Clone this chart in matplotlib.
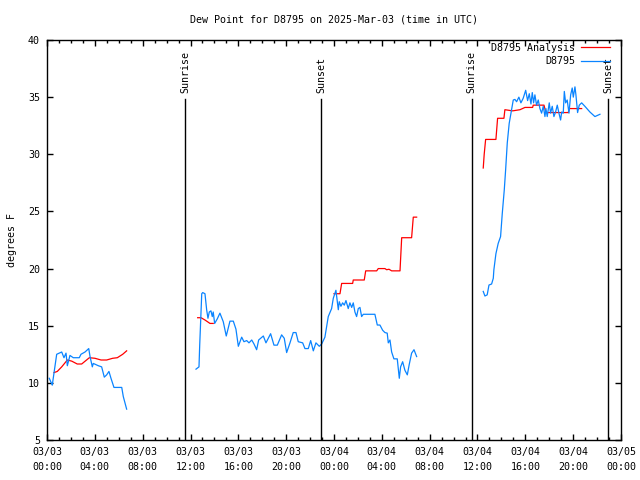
import numpy as np
import matplotlib
matplotlib.use("Agg")
import matplotlib.pyplot as plt
from matplotlib.ticker import MultipleLocator, FuncFormatter
import matplotlib.transforms as mtransforms

# ------------------------------------------------------------
# data (hours since 2025-03-03 00:00 UTC, dew point in F)
# nan marks a gap in the record
# ------------------------------------------------------------
obs_hours = [
    0.19, 0.44, 0.81, 1.23, 1.42, 1.59, 1.70, 1.92, 2.20, 2.70, 2.84, 3.18, 3.49, 3.60,
    3.79, 3.87, 4.29, 4.57, 4.79, 4.99, 5.18, 5.35, 5.60, 6.25, 6.38, 6.66,
    np.nan,
    12.46, 12.71, 12.77, 12.94, 13.02, 13.21, 13.35, 13.46, 13.57, 13.71, 13.82, 13.90,
    14.02, 14.24, 14.46, 14.74, 14.99, 15.30, 15.58, 15.80, 16.00, 16.28, 16.47, 16.70,
    16.89, 17.12, 17.31, 17.53, 17.70, 18.09, 18.31, 18.70, 18.98, 19.26, 19.62, 19.84,
    20.04, 20.32, 20.59, 20.82, 21.01, 21.38, 21.57, 21.85, 22.05, 22.27, 22.49, 22.77,
    22.97, 23.24, 23.52, 23.80, 23.94, 24.16, 24.36, 24.44, 24.58, 24.72, 24.86, 25.00,
    25.19, 25.33, 25.48, 25.61, 25.75, 25.89, 26.03, 26.17, 26.31, 26.45, 27.42, 27.62,
    27.84, 28.07, 28.26, 28.45, 28.54, 28.68, 28.82, 29.01, 29.29, 29.46, 29.57, 29.74,
    29.93, 30.13, 30.29, 30.49, 30.69, 30.91,
    np.nan,
    36.48, 36.62, 36.81, 36.96, 37.18, 37.32, 37.37, 37.54, 37.73, 37.93, 38.07, 38.24,
    38.35, 38.49, 38.65, 38.85, 38.99, 39.13, 39.27, 39.46, 39.63, 39.82, 40.03, 40.19,
    40.33, 40.47, 40.58, 40.69, 40.80, 40.94, 41.08, 41.22, 41.36, 41.50, 41.64, 41.72,
    41.83, 42.00, 42.11, 42.25, 42.39, 42.53, 42.67, 42.81, 42.95, 43.04, 43.17, 43.26,
    43.37, 43.50, 43.65, 43.79, 43.92, 44.01, 44.15, 44.23, 44.37, 44.51, 44.71, 44.98,
    45.40, 45.82, 46.24,
]
obs_dewpt = [
    10.4, 9.8, 12.5, 12.7, 12.2, 12.6, 11.5, 12.4, 12.2, 12.2, 12.5, 12.7, 13.0, 12.3,
    11.4, 11.7, 11.5, 11.4, 10.5, 10.7, 11.0, 10.4, 9.6, 9.6, 8.8, 7.7,
    np.nan,
    11.2, 11.4, 13.3, 17.8, 17.9, 17.8, 16.4, 15.65, 16.2, 16.3, 15.8, 16.2,
    15.2, 15.6, 16.1, 15.35, 14.1, 15.4, 15.4, 14.7, 13.2, 14.0, 13.6, 13.7,
    13.5, 13.75, 13.4, 12.9, 13.75, 14.1, 13.5, 14.3, 13.3, 13.3, 14.2, 13.9,
    12.65, 13.5, 14.4, 14.4, 13.6, 13.5, 13.0, 13.0, 13.7, 12.8, 13.5, 13.2,
    13.4, 14.0, 15.8, 16.5, 17.4, 18.1, 16.4, 17.1, 16.7, 17.0, 16.8, 17.2,
    16.5, 17.0, 16.6, 17.0, 16.2, 15.8, 16.5, 16.6, 15.8, 16.0, 16.0, 15.06,
    15.06, 14.6, 14.4, 14.35, 13.5, 13.75, 12.7, 12.1, 12.1, 10.4, 11.4, 11.85,
    11.1, 10.7, 11.6, 12.6, 12.9, 12.3,
    np.nan,
    18.0, 17.6, 17.7, 18.56, 18.65, 19.15, 19.9, 21.3, 22.2, 22.8, 24.8, 26.9,
    28.6, 31.0, 32.7, 33.9, 34.75, 34.8, 34.6, 35.0, 34.5, 34.9, 35.6, 34.7,
    35.3, 34.4, 35.4, 34.5, 35.2, 34.3, 34.75, 34.0, 33.6, 34.2, 33.3, 34.0,
    33.3, 34.5, 33.6, 34.2, 33.3, 33.7, 34.3, 33.6, 33.0, 33.7, 33.6, 35.5,
    34.5, 34.75, 33.6, 35.2, 35.8, 35.0, 35.9, 35.2, 33.65, 34.3, 34.5, 34.2,
    33.7, 33.3, 33.5,
]

ana_hours = [
    0.59, 0.86, 1.23, 1.70, 2.07, 2.53, 2.90, 3.54, 4.01, 4.52, 4.99, 5.49, 5.88, 6.33, 6.66,
    np.nan,
    12.60, 12.88, 13.21, 13.63, 13.90,
    np.nan,
    24.00, 24.50, 24.64, 25.56, 25.61, 26.53, 26.65, 27.57, 27.70, 28.26, 28.40, 28.60,
    28.82, 29.52, 29.66, 30.49, 30.63, 30.91,
    np.nan,
    36.48, 36.56, 36.68, 37.54, 37.68, 38.21, 38.29, 38.94, 39.55, 39.97, 40.61, 40.66,
    41.56, 41.72, 42.62, 43.59, 43.67, 44.71,
]
ana_dewpt = [
    10.9, 11.0, 11.4, 12.0, 11.9, 11.65, 11.65, 12.2, 12.15, 12.0, 12.0, 12.15, 12.2, 12.5, 12.8,
    np.nan,
    15.7, 15.7, 15.5, 15.2, 15.2,
    np.nan,
    17.8, 17.8, 18.7, 18.7, 19.0, 19.0, 19.8, 19.8, 20.0, 20.0, 19.9, 19.94,
    19.8, 19.8, 22.7, 22.7, 24.5, 24.5,
    np.nan,
    28.8, 30.0, 31.3, 31.3, 33.15, 33.15, 33.9, 33.8, 33.9, 34.1, 34.1, 34.3,
    34.3, 33.65, 33.65, 33.65, 34.0, 34.0,
]

sun_hours = [11.53, 22.92, 35.50, 46.95]
sun_labels = ["Sunrise", "Sunset", "Sunrise", "Sunset"]

station = "D8795"
title = "Dew Point for D8795 on 2025-Mar-03 (time in UTC)"

# ------------------------------------------------------------
# plot
# ------------------------------------------------------------
FONT = "DejaVu Sans Mono"
FS = 7.2
plt.rcParams["font.family"] = FONT
plt.rcParams["font.size"] = FS

fig = plt.figure(figsize=(6.4, 4.8), dpi=100)
ax = fig.add_axes([47 / 640, 40 / 480, 574 / 640, 400 / 480])

ax.plot(ana_hours, ana_dewpt, color="#ff0000", lw=0.9, label=f"{station} Analysis")
ax.plot(obs_hours, obs_dewpt, color="#0a84ff", lw=0.9, label=station)

trans = mtransforms.blended_transform_factory(ax.transData, ax.transAxes)
for h, lab in zip(sun_hours, sun_labels):
    ax.axvline(h, ymin=0, ymax=0.8525, color="black", lw=1.0)
    ax.text(h, 0.867, lab, transform=trans, rotation=90, ha="center", va="bottom",
            fontsize=FS)

ax.set_xlim(0, 48)
ax.set_ylim(5, 40)

ax.xaxis.set_major_locator(MultipleLocator(4))
ax.xaxis.set_minor_locator(MultipleLocator(1))
ax.yaxis.set_major_locator(MultipleLocator(5))


def fmt_time(x, pos):
    day = 3 + int(x // 24)
    hr = int(round(x % 24))
    return f"03/{day:02d}\n{hr:02d}:00"


ax.xaxis.set_major_formatter(FuncFormatter(fmt_time))
ax.tick_params(which="both", direction="in", top=True, right=True, width=1.0)
ax.tick_params(which="major", length=4.5, labelsize=FS, pad=5)
ax.tick_params(which="minor", length=2.3)
for lab in ax.get_xticklabels():
    lab.set_linespacing(1.6)
for sp in ax.spines.values():
    sp.set_linewidth(1.0)

ax.set_ylabel("degrees F", fontsize=FS, labelpad=8)
ax.set_title(title, fontsize=FS, pad=12.5)

ax.legend(loc="upper right", bbox_to_anchor=(1 - 11 / 574, 1 - 3 / 400), markerfirst=False,
          frameon=False, fontsize=FS, handlelength=2.9, handletextpad=0.6,
          labelspacing=0.35, borderaxespad=0, borderpad=0)

fig.savefig("out.png", dpi=100)
